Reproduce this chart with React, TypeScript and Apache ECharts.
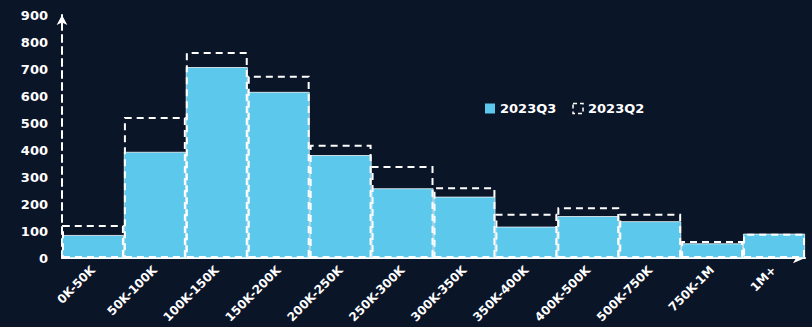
import React, { useEffect, useRef } from "react";
import * as echarts from "echarts";

const categories = ["0K-50K", "50K-100K", "100K-150K", "150K-200K", "200K-250K", "250K-300K", "300K-350K", "350K-400K", "400K-500K", "500K-750K", "750K-1M", "1M+"];
const q3Values = [85, 393, 707, 615, 381, 258, 227, 116, 155, 136, 54, 90];
const q2Values = [122, 522, 763, 675, 419, 341, 262, 164, 188, 164, 63, 90];
const yTicks = [0, 100, 200, 300, 400, 500, 600, 700, 800, 900];

const FONT = "DejaVu Sans";
const BG = "#0b1528";
const FILL = "#5bc8ec";

export default function App() {
  const ref = useRef<HTMLDivElement>(null);
  useEffect(() => {
    if (!ref.current) return;
    const chart = echarts.init(ref.current, null, { renderer: "svg" });
    chart.setOption({
      animation: false,
      backgroundColor: BG,
      textStyle: { fontFamily: FONT },
      grid: { left: 62, right: 7, top: 15, bottom: 69, containLabel: false },
      legend: {
        left: 480,
        top: 97,
        itemWidth: 10,
        itemHeight: 10,
        itemGap: 16,
        textStyle: { color: "#ffffff", fontFamily: FONT, fontWeight: "bold", fontSize: 13 },
        data: [
          { name: "2023Q3", icon: "rect", itemStyle: { color: FILL, borderWidth: 0 } },
          { name: "2023Q2", icon: "rect", itemStyle: { color: "transparent", borderColor: "#ffffff", borderWidth: 1.5, borderType: [4, 3] } },
        ],
      },
      xAxis: {
        type: "category",
        data: categories,
        axisTick: { show: false },
        axisLine: { show: true, symbol: ["none", "arrow"], symbolSize: [8, 12], lineStyle: { color: "#ffffff", width: 2 } },
        axisLabel: { color: "#ffffff", fontFamily: FONT, fontWeight: "bold", fontSize: 12, rotate: 45, margin: 10, interval: 0 },
        splitLine: { show: false },
      },
      yAxis: {
        type: "value",
        min: 0,
        max: yTicks[yTicks.length - 1],
        interval: 100,
        axisLine: { show: true, symbol: ["none", "arrow"], symbolSize: [8, 10], lineStyle: { color: "#ffffff", width: 2, type: [7, 5] } },
        axisTick: { show: false },
        splitLine: { show: false },
        axisLabel: { color: "#ffffff", fontFamily: FONT, fontWeight: "bold", fontSize: 13, margin: 14 },
      },
      series: [
        {
          name: "2023Q3",
          type: "bar",
          data: q3Values,
          barWidth: "100%",
          barGap: "-100%",
          itemStyle: { color: FILL, borderColor: "#ffffff", borderWidth: 0.75 },
          z: 2,
        },
        {
          name: "2023Q2",
          type: "bar",
          data: q2Values,
          barWidth: "100%",
          barGap: "-100%",
          itemStyle: { color: "transparent", borderColor: "#ffffff", borderWidth: 2, borderType: [7, 5] },
          z: 3,
        },
      ],
    });
    return () => chart.dispose();
  }, []);
  return <div ref={ref} style={{ width: 812, height: 327, position: "absolute", left: 0, top: 0 }} />;
}
